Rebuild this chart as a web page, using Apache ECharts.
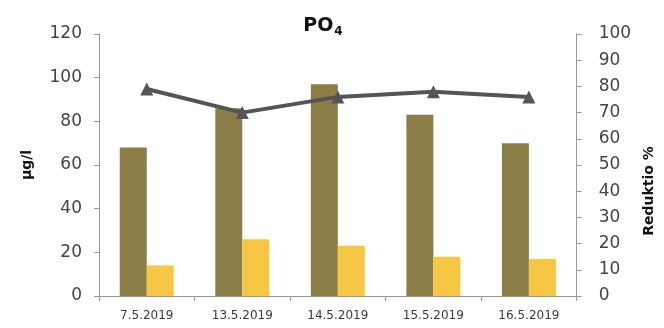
<!DOCTYPE html>
<html>
<head>
<meta charset="utf-8">
<script src="https://cdn.jsdelivr.net/npm/echarts@6/dist/echarts.min.js"></script>
<style>
  html, body { margin: 0; padding: 0; background: #fff; }
  #chart { width: 664px; height: 328px; }
</style>
</head>
<body>
<div id="chart"></div>
<script>
// Sampling dates
const dates = ['7.5.2019', '13.5.2019', '14.5.2019', '15.5.2019', '16.5.2019'];
// PO4 concentration, µg/l (inflow vs. outflow)
const inflow = [68, 86, 97, 83, 70];
const outflow = [14, 26, 23, 18, 17];
// Reduction, %
const reduction = [79, 70, 76, 78, 76];

const font = '"DejaVu Sans", Verdana, sans-serif';
const chart = echarts.init(document.getElementById('chart'));
chart.setOption({
  animation: false,
  backgroundColor: '#fff',
  title: {
    text: '{b|PO}{s|4}',
    left: 318,
    top: 10,
    textAlign: 'center',
    textStyle: {
      rich: {
        b: { fontFamily: font, fontWeight: 'bold', fontSize: 19, color: '#111' },
        s: { fontFamily: font, fontWeight: 'bold', fontSize: 12, color: '#111', padding: [11, 0, 0, 1] }
      }
    }
  },
  grid: { left: 99, right: 87, top: 34, bottom: 32 },
  xAxis: {
    type: 'category',
    data: dates,
    axisLine: { lineStyle: { color: '#999', width: 1 } },
    axisTick: { show: true, alignWithLabel: false, length: 5, lineStyle: { color: '#999' } },
    axisLabel: { color: '#3a3a3a', fontFamily: font, fontSize: 12, margin: 14 }
  },
  yAxis: [
    {
      type: 'value', min: 0, max: 120, interval: 20,
      name: 'µg/l', nameLocation: 'middle', nameGap: 65, nameRotate: 90,
      nameTextStyle: { fontFamily: font, fontWeight: 'bold', fontSize: 14, color: '#111' },
      axisLine: { show: true, lineStyle: { color: '#999' } },
      axisTick: { show: true, length: 5, lineStyle: { color: '#999' } },
      axisLabel: { color: '#444', fontFamily: font, fontSize: 17, margin: 17 },
      splitLine: { show: false }
    },
    {
      type: 'value', min: 0, max: 100, interval: 10, position: 'right',
      name: 'Reduktio %', nameLocation: 'middle', nameGap: 64, nameRotate: 90,
      nameTextStyle: { fontFamily: font, fontWeight: 'bold', fontSize: 14, color: '#111', padding: [0, 52, 0, 0] },
      axisLine: { show: true, lineStyle: { color: '#999' } },
      axisTick: { show: true, length: 5, lineStyle: { color: '#999' } },
      axisLabel: { color: '#444', fontFamily: font, fontSize: 17, margin: 22 },
      splitLine: { show: false }
    }
  ],
  series: [
    {
      type: 'bar', data: inflow, yAxisIndex: 0,
      barWidth: 27, barGap: '0%',
      itemStyle: { color: '#8C7E47' }
    },
    {
      type: 'bar', data: outflow, yAxisIndex: 0,
      barWidth: 27, barGap: '0%',
      itemStyle: { color: '#F6C745' }
    },
    {
      type: 'line', data: reduction, yAxisIndex: 1,
      symbol: 'triangle', symbolSize: 13,
      lineStyle: { color: '#555', width: 4 },
      itemStyle: { color: '#555' }
    }
  ]
});
</script>
</body>
</html>
